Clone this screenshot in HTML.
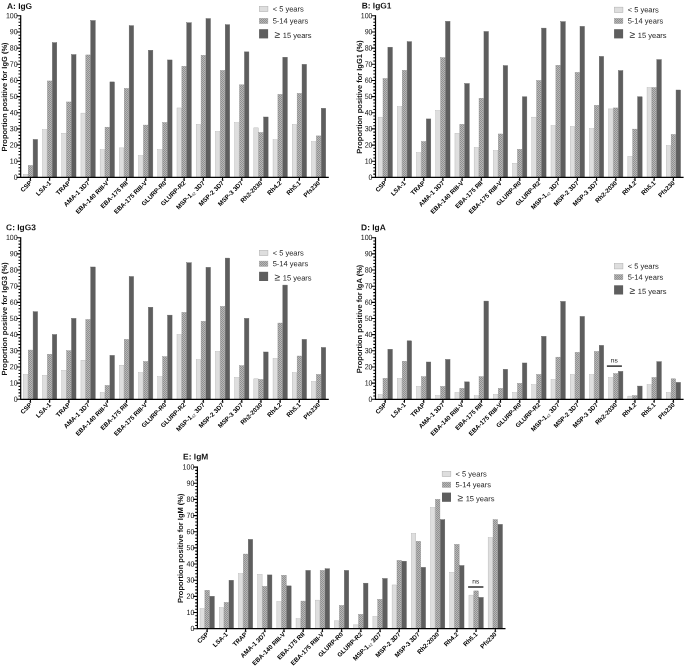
<!DOCTYPE html>
<html lang="en"><head><meta charset="utf-8"><title>Figure</title>
<style>html,body{margin:0;padding:0;background:#fff}svg{display:block}text{font-family:"Liberation Sans",Arial,Helvetica,sans-serif;fill:#1a1a1a;text-rendering:geometricPrecision}.t{font-size:8.4px;font-weight:bold;fill:#111}.tk{font-size:7.6px;text-anchor:end;fill:#111}.yl{font-size:7.5px;font-weight:bold;text-anchor:middle;fill:#111}.xl{font-size:6.3px;font-weight:bold;text-anchor:end;fill:#000}.sp{font-size:3.2px;font-weight:bold;fill:#222}.lg{font-size:7.5px;fill:#1a1a1a}.ns{font-size:6.7px;text-anchor:middle;fill:#222}</style></head><body>
<svg width="685" height="668" viewBox="0 0 685 668">
<defs><pattern id="ck" width="2" height="2" patternUnits="userSpaceOnUse"><rect width="2" height="2" fill="#b8b8b8"/><rect width="1" height="1" fill="#909090"/><rect x="1" y="1" width="1" height="1" fill="#909090"/></pattern></defs>
<rect width="685" height="668" fill="#fff"/>
<g>
<text class="t" transform="translate(7 9.1) rotate(0.06)">A: IgG</text>
<rect x="23.3" y="174.53" width="4.5" height="2.87" fill="#dedede" stroke="#b2b2b2" stroke-width="0.4"/>
<rect x="28.2" y="165.48" width="4.5" height="11.92" fill="url(#ck)" stroke="#8c8c8c" stroke-width="0.4"/>
<rect x="33.1" y="139.46" width="4.5" height="37.94" fill="#5e5e5e" stroke="#5e5e5e" stroke-width="0.4"/>
<rect x="42.51" y="129.6" width="4.5" height="47.8" fill="#dedede" stroke="#b2b2b2" stroke-width="0.4"/>
<rect x="47.41" y="80.96" width="4.5" height="96.44" fill="url(#ck)" stroke="#8c8c8c" stroke-width="0.4"/>
<rect x="52.31" y="42.66" width="4.5" height="134.74" fill="#5e5e5e" stroke="#5e5e5e" stroke-width="0.4"/>
<rect x="61.72" y="133.32" width="4.5" height="44.08" fill="#dedede" stroke="#b2b2b2" stroke-width="0.4"/>
<rect x="66.62" y="101.97" width="4.5" height="75.43" fill="url(#ck)" stroke="#8c8c8c" stroke-width="0.4"/>
<rect x="71.52" y="54.62" width="4.5" height="122.78" fill="#5e5e5e" stroke="#5e5e5e" stroke-width="0.4"/>
<rect x="80.93" y="113.12" width="4.5" height="64.28" fill="#dedede" stroke="#b2b2b2" stroke-width="0.4"/>
<rect x="85.83" y="54.95" width="4.5" height="122.45" fill="url(#ck)" stroke="#8c8c8c" stroke-width="0.4"/>
<rect x="90.73" y="20.52" width="4.5" height="156.88" fill="#5e5e5e" stroke="#5e5e5e" stroke-width="0.4"/>
<rect x="100.14" y="149.64" width="4.5" height="27.76" fill="#dedede" stroke="#b2b2b2" stroke-width="0.4"/>
<rect x="105.04" y="127.18" width="4.5" height="50.22" fill="url(#ck)" stroke="#8c8c8c" stroke-width="0.4"/>
<rect x="109.94" y="81.93" width="4.5" height="95.47" fill="#5e5e5e" stroke="#5e5e5e" stroke-width="0.4"/>
<rect x="119.35" y="147.87" width="4.5" height="29.53" fill="#dedede" stroke="#b2b2b2" stroke-width="0.4"/>
<rect x="124.25" y="88.4" width="4.5" height="89" fill="url(#ck)" stroke="#8c8c8c" stroke-width="0.4"/>
<rect x="129.15" y="25.7" width="4.5" height="151.7" fill="#5e5e5e" stroke="#5e5e5e" stroke-width="0.4"/>
<rect x="138.56" y="155.62" width="4.5" height="21.78" fill="#dedede" stroke="#b2b2b2" stroke-width="0.4"/>
<rect x="143.46" y="125.08" width="4.5" height="52.32" fill="url(#ck)" stroke="#8c8c8c" stroke-width="0.4"/>
<rect x="148.36" y="50.26" width="4.5" height="127.14" fill="#5e5e5e" stroke="#5e5e5e" stroke-width="0.4"/>
<rect x="157.77" y="149.64" width="4.5" height="27.76" fill="#dedede" stroke="#b2b2b2" stroke-width="0.4"/>
<rect x="162.67" y="122.49" width="4.5" height="54.91" fill="url(#ck)" stroke="#8c8c8c" stroke-width="0.4"/>
<rect x="167.57" y="59.96" width="4.5" height="117.44" fill="#5e5e5e" stroke="#5e5e5e" stroke-width="0.4"/>
<rect x="176.98" y="107.95" width="4.5" height="69.45" fill="#dedede" stroke="#b2b2b2" stroke-width="0.4"/>
<rect x="181.88" y="66.26" width="4.5" height="111.14" fill="url(#ck)" stroke="#8c8c8c" stroke-width="0.4"/>
<rect x="186.78" y="22.79" width="4.5" height="154.61" fill="#5e5e5e" stroke="#5e5e5e" stroke-width="0.4"/>
<rect x="196.19" y="124.43" width="4.5" height="52.97" fill="#dedede" stroke="#b2b2b2" stroke-width="0.4"/>
<rect x="201.09" y="55.27" width="4.5" height="122.13" fill="url(#ck)" stroke="#8c8c8c" stroke-width="0.4"/>
<rect x="205.99" y="18.59" width="4.5" height="158.81" fill="#5e5e5e" stroke="#5e5e5e" stroke-width="0.4"/>
<rect x="215.4" y="131.54" width="4.5" height="45.86" fill="#dedede" stroke="#b2b2b2" stroke-width="0.4"/>
<rect x="220.3" y="70.46" width="4.5" height="106.94" fill="url(#ck)" stroke="#8c8c8c" stroke-width="0.4"/>
<rect x="225.2" y="24.73" width="4.5" height="152.67" fill="#5e5e5e" stroke="#5e5e5e" stroke-width="0.4"/>
<rect x="234.61" y="122.66" width="4.5" height="54.74" fill="#dedede" stroke="#b2b2b2" stroke-width="0.4"/>
<rect x="239.51" y="84.84" width="4.5" height="92.56" fill="url(#ck)" stroke="#8c8c8c" stroke-width="0.4"/>
<rect x="244.41" y="51.88" width="4.5" height="125.52" fill="#5e5e5e" stroke="#5e5e5e" stroke-width="0.4"/>
<rect x="253.82" y="127.83" width="4.5" height="49.57" fill="#dedede" stroke="#b2b2b2" stroke-width="0.4"/>
<rect x="258.72" y="132.51" width="4.5" height="44.89" fill="url(#ck)" stroke="#8c8c8c" stroke-width="0.4"/>
<rect x="263.62" y="117" width="4.5" height="60.4" fill="#5e5e5e" stroke="#5e5e5e" stroke-width="0.4"/>
<rect x="273.03" y="139.79" width="4.5" height="37.61" fill="#dedede" stroke="#b2b2b2" stroke-width="0.4"/>
<rect x="277.93" y="94.38" width="4.5" height="83.02" fill="url(#ck)" stroke="#8c8c8c" stroke-width="0.4"/>
<rect x="282.83" y="57.21" width="4.5" height="120.19" fill="#5e5e5e" stroke="#5e5e5e" stroke-width="0.4"/>
<rect x="292.24" y="124.43" width="4.5" height="52.97" fill="#dedede" stroke="#b2b2b2" stroke-width="0.4"/>
<rect x="297.14" y="93.41" width="4.5" height="83.99" fill="url(#ck)" stroke="#8c8c8c" stroke-width="0.4"/>
<rect x="302.04" y="64.32" width="4.5" height="113.08" fill="#5e5e5e" stroke="#5e5e5e" stroke-width="0.4"/>
<rect x="311.45" y="141.72" width="4.5" height="35.68" fill="#dedede" stroke="#b2b2b2" stroke-width="0.4"/>
<rect x="316.35" y="135.91" width="4.5" height="41.49" fill="url(#ck)" stroke="#8c8c8c" stroke-width="0.4"/>
<rect x="321.25" y="108.27" width="4.5" height="69.13" fill="#5e5e5e" stroke="#5e5e5e" stroke-width="0.4"/>
<path d="M20.7 15.3 V177.4 H328.8" fill="none" stroke="#000" stroke-width="1.2"/>
<path d="M20.7 177.4h-4.1M20.7 174.17h-2.2M20.7 170.94h-2.2M20.7 167.7h-2.2M20.7 164.47h-2.2M20.7 161.24h-4.1M20.7 158.01h-2.2M20.7 154.78h-2.2M20.7 151.54h-2.2M20.7 148.31h-2.2M20.7 145.08h-4.1M20.7 141.85h-2.2M20.7 138.62h-2.2M20.7 135.38h-2.2M20.7 132.15h-2.2M20.7 128.92h-4.1M20.7 125.69h-2.2M20.7 122.46h-2.2M20.7 119.22h-2.2M20.7 115.99h-2.2M20.7 112.76h-4.1M20.7 109.53h-2.2M20.7 106.3h-2.2M20.7 103.06h-2.2M20.7 99.83h-2.2M20.7 96.6h-4.1M20.7 93.37h-2.2M20.7 90.14h-2.2M20.7 86.9h-2.2M20.7 83.67h-2.2M20.7 80.44h-4.1M20.7 77.21h-2.2M20.7 73.98h-2.2M20.7 70.74h-2.2M20.7 67.51h-2.2M20.7 64.28h-4.1M20.7 61.05h-2.2M20.7 57.82h-2.2M20.7 54.58h-2.2M20.7 51.35h-2.2M20.7 48.12h-4.1M20.7 44.89h-2.2M20.7 41.66h-2.2M20.7 38.42h-2.2M20.7 35.19h-2.2M20.7 31.96h-4.1M20.7 28.73h-2.2M20.7 25.5h-2.2M20.7 22.26h-2.2M20.7 19.03h-2.2M20.7 15.8h-4.1" stroke="#000" stroke-width="1.1" fill="none"/>
<path d="M30.45 177.4v3.4M49.66 177.4v3.4M68.87 177.4v3.4M88.08 177.4v3.4M107.29 177.4v3.4M126.5 177.4v3.4M145.71 177.4v3.4M164.92 177.4v3.4M184.13 177.4v3.4M203.34 177.4v3.4M222.55 177.4v3.4M241.76 177.4v3.4M260.97 177.4v3.4M280.18 177.4v3.4M299.39 177.4v3.4M318.6 177.4v3.4" stroke="#000" stroke-width="1.1" fill="none"/>
<text class="tk" transform="translate(17.7 179.8) rotate(0.06) scale(0.93 1)">0</text>
<text class="tk" transform="translate(17.7 163.64) rotate(0.06) scale(0.93 1)">10</text>
<text class="tk" transform="translate(17.7 147.48) rotate(0.06) scale(0.93 1)">20</text>
<text class="tk" transform="translate(17.7 131.32) rotate(0.06) scale(0.93 1)">30</text>
<text class="tk" transform="translate(17.7 115.16) rotate(0.06) scale(0.93 1)">40</text>
<text class="tk" transform="translate(17.7 99) rotate(0.06) scale(0.93 1)">50</text>
<text class="tk" transform="translate(17.7 82.84) rotate(0.06) scale(0.93 1)">60</text>
<text class="tk" transform="translate(17.7 66.68) rotate(0.06) scale(0.93 1)">70</text>
<text class="tk" transform="translate(17.7 50.52) rotate(0.06) scale(0.93 1)">80</text>
<text class="tk" transform="translate(17.7 34.36) rotate(0.06) scale(0.93 1)">90</text>
<text class="tk" transform="translate(17.7 18.2) rotate(0.06) scale(0.93 1)">100</text>
<text class="yl" transform="translate(6.5 97) rotate(-90)">Proportion positive for IgG (%)</text>
<g transform="translate(32.25 183.4) rotate(-45)"><text class="xl">CSP</text><text class="sp" x="0.2" y="-2.6">¥</text></g>
<g transform="translate(51.46 183.4) rotate(-45)"><text class="xl">LSA-1</text><text class="sp" x="0.2" y="-2.6">*</text></g>
<g transform="translate(70.67 183.4) rotate(-45)"><text class="xl">TRAP</text><text class="sp" x="0.2" y="-2.6">¥</text></g>
<g transform="translate(89.88 183.4) rotate(-45)"><text class="xl">AMA-1 3D7</text><text class="sp" x="0.2" y="-2.6">¥</text></g>
<g transform="translate(109.09 183.4) rotate(-45)"><text class="xl">EBA-140 RIII-V</text><text class="sp" x="0.2" y="-2.6">¥</text></g>
<g transform="translate(128.3 183.4) rotate(-45)"><text class="xl">EBA-175 RII</text><text class="sp" x="0.2" y="-2.6">#</text></g>
<g transform="translate(147.51 183.4) rotate(-45)"><text class="xl">EBA-175 RIII-V</text><text class="sp" x="0.2" y="-2.6">¥</text></g>
<g transform="translate(166.72 183.4) rotate(-45)"><text class="xl">GLURP-R0</text><text class="sp" x="0.2" y="-2.6">¥</text></g>
<g transform="translate(185.93 183.4) rotate(-45)"><text class="xl">GLURP-R2</text><text class="sp" x="0.2" y="-2.6">¥</text></g>
<g transform="translate(205.14 183.4) rotate(-45)"><text class="xl">MSP-1<tspan font-size="4.2" font-weight="normal" fill="#444" dy="1">42</tspan><tspan dy="-1"> 3D7</tspan></text><text class="sp" x="0.2" y="-2.6">¥</text></g>
<g transform="translate(224.35 183.4) rotate(-45)"><text class="xl">MSP-2 3D7</text><text class="sp" x="0.2" y="-2.6">¥</text></g>
<g transform="translate(243.56 183.4) rotate(-45)"><text class="xl">MSP-3 3D7</text><text class="sp" x="0.2" y="-2.6">¥</text></g>
<g transform="translate(262.77 183.4) rotate(-45)"><text class="xl">Rh2-2030</text><text class="sp" x="0.2" y="-2.6">¥</text></g>
<g transform="translate(281.98 183.4) rotate(-45)"><text class="xl">Rh4.2</text><text class="sp" x="0.2" y="-2.6">¥</text></g>
<g transform="translate(301.19 183.4) rotate(-45)"><text class="xl">Rh5.1</text><text class="sp" x="0.2" y="-2.6">*</text></g>
<g transform="translate(320.4 183.4) rotate(-45)"><text class="xl">Pfs230</text><text class="sp" x="0.2" y="-2.6">¥</text></g>
<rect x="259.3" y="6.3" width="8.6" height="5.3" fill="#dedede" stroke="#b4b4b4" stroke-width="0.6"/>
<rect x="259.3" y="18.3" width="8.6" height="5.3" fill="url(#ck)" stroke="#9a9a9a" stroke-width="0.4"/>
<rect x="259.1" y="29.2" width="9" height="9.2" fill="#5e5e5e"/>
<text class="lg" transform="translate(272.7 11.45) rotate(0.06)">&lt; 5 years</text>
<text class="lg" transform="translate(272.7 23.5) rotate(0.06)">5-14 years</text>
<text class="lg" transform="translate(274.5 37.9) rotate(0.06)"><tspan font-size="10.2">≥</tspan><tspan x="8.3">15 years</tspan></text>
</g>
<g>
<text class="t" transform="translate(361.7 8.5) rotate(0.06)">B: IgG1</text>
<rect x="378.1" y="117.16" width="4.5" height="60.24" fill="#dedede" stroke="#b2b2b2" stroke-width="0.4"/>
<rect x="383" y="78.54" width="4.5" height="98.86" fill="url(#ck)" stroke="#8c8c8c" stroke-width="0.4"/>
<rect x="387.9" y="47.19" width="4.5" height="130.21" fill="#5e5e5e" stroke="#5e5e5e" stroke-width="0.4"/>
<rect x="397.31" y="106.66" width="4.5" height="70.74" fill="#dedede" stroke="#b2b2b2" stroke-width="0.4"/>
<rect x="402.21" y="70.3" width="4.5" height="107.1" fill="url(#ck)" stroke="#8c8c8c" stroke-width="0.4"/>
<rect x="407.11" y="41.69" width="4.5" height="135.71" fill="#5e5e5e" stroke="#5e5e5e" stroke-width="0.4"/>
<rect x="416.52" y="152.71" width="4.5" height="24.69" fill="#dedede" stroke="#b2b2b2" stroke-width="0.4"/>
<rect x="421.42" y="141.56" width="4.5" height="35.84" fill="url(#ck)" stroke="#8c8c8c" stroke-width="0.4"/>
<rect x="426.32" y="118.94" width="4.5" height="58.46" fill="#5e5e5e" stroke="#5e5e5e" stroke-width="0.4"/>
<rect x="435.73" y="110.54" width="4.5" height="66.86" fill="#dedede" stroke="#b2b2b2" stroke-width="0.4"/>
<rect x="440.63" y="57.69" width="4.5" height="119.71" fill="url(#ck)" stroke="#8c8c8c" stroke-width="0.4"/>
<rect x="445.53" y="21.33" width="4.5" height="156.07" fill="#5e5e5e" stroke="#5e5e5e" stroke-width="0.4"/>
<rect x="454.94" y="133.32" width="4.5" height="44.08" fill="#dedede" stroke="#b2b2b2" stroke-width="0.4"/>
<rect x="459.84" y="124.27" width="4.5" height="53.13" fill="url(#ck)" stroke="#8c8c8c" stroke-width="0.4"/>
<rect x="464.74" y="83.55" width="4.5" height="93.85" fill="#5e5e5e" stroke="#5e5e5e" stroke-width="0.4"/>
<rect x="474.15" y="147.54" width="4.5" height="29.86" fill="#dedede" stroke="#b2b2b2" stroke-width="0.4"/>
<rect x="479.05" y="98.25" width="4.5" height="79.15" fill="url(#ck)" stroke="#8c8c8c" stroke-width="0.4"/>
<rect x="483.95" y="31.51" width="4.5" height="145.89" fill="#5e5e5e" stroke="#5e5e5e" stroke-width="0.4"/>
<rect x="493.36" y="150.61" width="4.5" height="26.79" fill="#dedede" stroke="#b2b2b2" stroke-width="0.4"/>
<rect x="498.26" y="133.97" width="4.5" height="43.43" fill="url(#ck)" stroke="#8c8c8c" stroke-width="0.4"/>
<rect x="503.16" y="65.61" width="4.5" height="111.79" fill="#5e5e5e" stroke="#5e5e5e" stroke-width="0.4"/>
<rect x="512.57" y="163.38" width="4.5" height="14.02" fill="#dedede" stroke="#b2b2b2" stroke-width="0.4"/>
<rect x="517.47" y="149.32" width="4.5" height="28.08" fill="url(#ck)" stroke="#8c8c8c" stroke-width="0.4"/>
<rect x="522.37" y="96.8" width="4.5" height="80.6" fill="#5e5e5e" stroke="#5e5e5e" stroke-width="0.4"/>
<rect x="531.78" y="117.16" width="4.5" height="60.24" fill="#dedede" stroke="#b2b2b2" stroke-width="0.4"/>
<rect x="536.68" y="80.48" width="4.5" height="96.92" fill="url(#ck)" stroke="#8c8c8c" stroke-width="0.4"/>
<rect x="541.58" y="28.12" width="4.5" height="149.28" fill="#5e5e5e" stroke="#5e5e5e" stroke-width="0.4"/>
<rect x="550.99" y="125.56" width="4.5" height="51.84" fill="#dedede" stroke="#b2b2b2" stroke-width="0.4"/>
<rect x="555.89" y="65.29" width="4.5" height="112.11" fill="url(#ck)" stroke="#8c8c8c" stroke-width="0.4"/>
<rect x="560.79" y="21.66" width="4.5" height="155.74" fill="#5e5e5e" stroke="#5e5e5e" stroke-width="0.4"/>
<rect x="570.2" y="126.53" width="4.5" height="50.87" fill="#dedede" stroke="#b2b2b2" stroke-width="0.4"/>
<rect x="575.1" y="72.4" width="4.5" height="105" fill="url(#ck)" stroke="#8c8c8c" stroke-width="0.4"/>
<rect x="580" y="26.34" width="4.5" height="151.06" fill="#5e5e5e" stroke="#5e5e5e" stroke-width="0.4"/>
<rect x="589.41" y="128.64" width="4.5" height="48.76" fill="#dedede" stroke="#b2b2b2" stroke-width="0.4"/>
<rect x="594.31" y="105.36" width="4.5" height="72.04" fill="url(#ck)" stroke="#8c8c8c" stroke-width="0.4"/>
<rect x="599.21" y="56.4" width="4.5" height="121" fill="#5e5e5e" stroke="#5e5e5e" stroke-width="0.4"/>
<rect x="608.62" y="108.92" width="4.5" height="68.48" fill="#dedede" stroke="#b2b2b2" stroke-width="0.4"/>
<rect x="613.52" y="107.95" width="4.5" height="69.45" fill="url(#ck)" stroke="#8c8c8c" stroke-width="0.4"/>
<rect x="618.42" y="70.62" width="4.5" height="106.78" fill="#5e5e5e" stroke="#5e5e5e" stroke-width="0.4"/>
<rect x="627.83" y="156.43" width="4.5" height="20.97" fill="#dedede" stroke="#b2b2b2" stroke-width="0.4"/>
<rect x="632.73" y="129.12" width="4.5" height="48.28" fill="url(#ck)" stroke="#8c8c8c" stroke-width="0.4"/>
<rect x="637.63" y="96.8" width="4.5" height="80.6" fill="#5e5e5e" stroke="#5e5e5e" stroke-width="0.4"/>
<rect x="647.04" y="87.59" width="4.5" height="89.81" fill="#dedede" stroke="#b2b2b2" stroke-width="0.4"/>
<rect x="651.94" y="87.59" width="4.5" height="89.81" fill="url(#ck)" stroke="#8c8c8c" stroke-width="0.4"/>
<rect x="656.84" y="59.63" width="4.5" height="117.77" fill="#5e5e5e" stroke="#5e5e5e" stroke-width="0.4"/>
<rect x="666.25" y="145.6" width="4.5" height="31.8" fill="#dedede" stroke="#b2b2b2" stroke-width="0.4"/>
<rect x="671.15" y="134.45" width="4.5" height="42.95" fill="url(#ck)" stroke="#8c8c8c" stroke-width="0.4"/>
<rect x="676.05" y="90.01" width="4.5" height="87.39" fill="#5e5e5e" stroke="#5e5e5e" stroke-width="0.4"/>
<path d="M375.5 15.3 V177.4 H683.6" fill="none" stroke="#000" stroke-width="1.2"/>
<path d="M375.5 177.4h-4.1M375.5 174.17h-2.2M375.5 170.94h-2.2M375.5 167.7h-2.2M375.5 164.47h-2.2M375.5 161.24h-4.1M375.5 158.01h-2.2M375.5 154.78h-2.2M375.5 151.54h-2.2M375.5 148.31h-2.2M375.5 145.08h-4.1M375.5 141.85h-2.2M375.5 138.62h-2.2M375.5 135.38h-2.2M375.5 132.15h-2.2M375.5 128.92h-4.1M375.5 125.69h-2.2M375.5 122.46h-2.2M375.5 119.22h-2.2M375.5 115.99h-2.2M375.5 112.76h-4.1M375.5 109.53h-2.2M375.5 106.3h-2.2M375.5 103.06h-2.2M375.5 99.83h-2.2M375.5 96.6h-4.1M375.5 93.37h-2.2M375.5 90.14h-2.2M375.5 86.9h-2.2M375.5 83.67h-2.2M375.5 80.44h-4.1M375.5 77.21h-2.2M375.5 73.98h-2.2M375.5 70.74h-2.2M375.5 67.51h-2.2M375.5 64.28h-4.1M375.5 61.05h-2.2M375.5 57.82h-2.2M375.5 54.58h-2.2M375.5 51.35h-2.2M375.5 48.12h-4.1M375.5 44.89h-2.2M375.5 41.66h-2.2M375.5 38.42h-2.2M375.5 35.19h-2.2M375.5 31.96h-4.1M375.5 28.73h-2.2M375.5 25.5h-2.2M375.5 22.26h-2.2M375.5 19.03h-2.2M375.5 15.8h-4.1" stroke="#000" stroke-width="1.1" fill="none"/>
<path d="M385.25 177.4v3.4M404.46 177.4v3.4M423.67 177.4v3.4M442.88 177.4v3.4M462.09 177.4v3.4M481.3 177.4v3.4M500.51 177.4v3.4M519.72 177.4v3.4M538.93 177.4v3.4M558.14 177.4v3.4M577.35 177.4v3.4M596.56 177.4v3.4M615.77 177.4v3.4M634.98 177.4v3.4M654.19 177.4v3.4M673.4 177.4v3.4" stroke="#000" stroke-width="1.1" fill="none"/>
<text class="tk" transform="translate(372.5 179.8) rotate(0.06) scale(0.93 1)">0</text>
<text class="tk" transform="translate(372.5 163.64) rotate(0.06) scale(0.93 1)">10</text>
<text class="tk" transform="translate(372.5 147.48) rotate(0.06) scale(0.93 1)">20</text>
<text class="tk" transform="translate(372.5 131.32) rotate(0.06) scale(0.93 1)">30</text>
<text class="tk" transform="translate(372.5 115.16) rotate(0.06) scale(0.93 1)">40</text>
<text class="tk" transform="translate(372.5 99) rotate(0.06) scale(0.93 1)">50</text>
<text class="tk" transform="translate(372.5 82.84) rotate(0.06) scale(0.93 1)">60</text>
<text class="tk" transform="translate(372.5 66.68) rotate(0.06) scale(0.93 1)">70</text>
<text class="tk" transform="translate(372.5 50.52) rotate(0.06) scale(0.93 1)">80</text>
<text class="tk" transform="translate(372.5 34.36) rotate(0.06) scale(0.93 1)">90</text>
<text class="tk" transform="translate(372.5 18.2) rotate(0.06) scale(0.93 1)">100</text>
<text class="yl" transform="translate(362 97) rotate(-90)">Proportion positive for IgG1 (%)</text>
<g transform="translate(387.05 183.4) rotate(-45)"><text class="xl">CSP</text><text class="sp" x="0.2" y="-2.6">¥</text></g>
<g transform="translate(406.26 183.4) rotate(-45)"><text class="xl">LSA-1</text><text class="sp" x="0.2" y="-2.6">*</text></g>
<g transform="translate(425.47 183.4) rotate(-45)"><text class="xl">TRAP</text><text class="sp" x="0.2" y="-2.6">¥</text></g>
<g transform="translate(444.68 183.4) rotate(-45)"><text class="xl">AMA-1 3D7</text><text class="sp" x="0.2" y="-2.6">¥</text></g>
<g transform="translate(463.89 183.4) rotate(-45)"><text class="xl">EBA-140 RIII-V</text><text class="sp" x="0.2" y="-2.6">¥</text></g>
<g transform="translate(483.1 183.4) rotate(-45)"><text class="xl">EBA-175 RII</text><text class="sp" x="0.2" y="-2.6">#</text></g>
<g transform="translate(502.31 183.4) rotate(-45)"><text class="xl">EBA-175 RIII-V</text><text class="sp" x="0.2" y="-2.6">¥</text></g>
<g transform="translate(521.52 183.4) rotate(-45)"><text class="xl">GLURP-R0</text><text class="sp" x="0.2" y="-2.6">¥</text></g>
<g transform="translate(540.73 183.4) rotate(-45)"><text class="xl">GLURP-R2</text><text class="sp" x="0.2" y="-2.6">¥</text></g>
<g transform="translate(559.94 183.4) rotate(-45)"><text class="xl">MSP-1<tspan font-size="4.2" font-weight="normal" fill="#444" dy="1">42</tspan><tspan dy="-1"> 3D7</tspan></text><text class="sp" x="0.2" y="-2.6">¥</text></g>
<g transform="translate(579.15 183.4) rotate(-45)"><text class="xl">MSP-2 3D7</text><text class="sp" x="0.2" y="-2.6">¥</text></g>
<g transform="translate(598.36 183.4) rotate(-45)"><text class="xl">MSP-3 3D7</text><text class="sp" x="0.2" y="-2.6">¥</text></g>
<g transform="translate(617.57 183.4) rotate(-45)"><text class="xl">Rh2-2030</text><text class="sp" x="0.2" y="-2.6">¥</text></g>
<g transform="translate(636.78 183.4) rotate(-45)"><text class="xl">Rh4.2</text><text class="sp" x="0.2" y="-2.6">¥</text></g>
<g transform="translate(655.99 183.4) rotate(-45)"><text class="xl">Rh5.1</text><text class="sp" x="0.2" y="-2.6">*</text></g>
<g transform="translate(675.2 183.4) rotate(-45)"><text class="xl">Pfs230</text><text class="sp" x="0.2" y="-2.6">¥</text></g>
<rect x="614.3" y="7.2" width="8.6" height="5.3" fill="#dedede" stroke="#b4b4b4" stroke-width="0.6"/>
<rect x="614.3" y="18.3" width="8.6" height="5.3" fill="url(#ck)" stroke="#9a9a9a" stroke-width="0.4"/>
<rect x="614.1" y="29.2" width="9" height="9.2" fill="#5e5e5e"/>
<text class="lg" transform="translate(627.7 12.35) rotate(0.06)">&lt; 5 years</text>
<text class="lg" transform="translate(627.7 23.5) rotate(0.06)">5-14 years</text>
<text class="lg" transform="translate(629.5 37.9) rotate(0.06)"><tspan font-size="10.2">≥</tspan><tspan x="8.3">15 years</tspan></text>
</g>
<g>
<text class="t" transform="translate(6.1 230.2) rotate(0.06)">C: IgG3</text>
<rect x="23.3" y="374.45" width="4.5" height="24.85" fill="#dedede" stroke="#b2b2b2" stroke-width="0.4"/>
<rect x="28.2" y="350.05" width="4.5" height="49.25" fill="url(#ck)" stroke="#8c8c8c" stroke-width="0.4"/>
<rect x="33.1" y="311.75" width="4.5" height="87.55" fill="#5e5e5e" stroke="#5e5e5e" stroke-width="0.4"/>
<rect x="42.51" y="375.42" width="4.5" height="23.88" fill="#dedede" stroke="#b2b2b2" stroke-width="0.4"/>
<rect x="47.41" y="354.25" width="4.5" height="45.05" fill="url(#ck)" stroke="#8c8c8c" stroke-width="0.4"/>
<rect x="52.31" y="334.54" width="4.5" height="64.76" fill="#5e5e5e" stroke="#5e5e5e" stroke-width="0.4"/>
<rect x="61.72" y="370.41" width="4.5" height="28.89" fill="#dedede" stroke="#b2b2b2" stroke-width="0.4"/>
<rect x="66.62" y="350.7" width="4.5" height="48.6" fill="url(#ck)" stroke="#8c8c8c" stroke-width="0.4"/>
<rect x="71.52" y="318.38" width="4.5" height="80.92" fill="#5e5e5e" stroke="#5e5e5e" stroke-width="0.4"/>
<rect x="80.93" y="360.23" width="4.5" height="39.07" fill="#dedede" stroke="#b2b2b2" stroke-width="0.4"/>
<rect x="85.83" y="319.51" width="4.5" height="79.79" fill="url(#ck)" stroke="#8c8c8c" stroke-width="0.4"/>
<rect x="90.73" y="266.99" width="4.5" height="132.31" fill="#5e5e5e" stroke="#5e5e5e" stroke-width="0.4"/>
<rect x="100.14" y="392.55" width="4.5" height="6.75" fill="#dedede" stroke="#b2b2b2" stroke-width="0.4"/>
<rect x="105.04" y="385.44" width="4.5" height="13.86" fill="url(#ck)" stroke="#8c8c8c" stroke-width="0.4"/>
<rect x="109.94" y="355.38" width="4.5" height="43.92" fill="#5e5e5e" stroke="#5e5e5e" stroke-width="0.4"/>
<rect x="119.35" y="365.24" width="4.5" height="34.06" fill="#dedede" stroke="#b2b2b2" stroke-width="0.4"/>
<rect x="124.25" y="339.38" width="4.5" height="59.92" fill="url(#ck)" stroke="#8c8c8c" stroke-width="0.4"/>
<rect x="129.15" y="276.52" width="4.5" height="122.78" fill="#5e5e5e" stroke="#5e5e5e" stroke-width="0.4"/>
<rect x="138.56" y="372.67" width="4.5" height="26.63" fill="#dedede" stroke="#b2b2b2" stroke-width="0.4"/>
<rect x="143.46" y="361.52" width="4.5" height="37.78" fill="url(#ck)" stroke="#8c8c8c" stroke-width="0.4"/>
<rect x="148.36" y="307.23" width="4.5" height="92.07" fill="#5e5e5e" stroke="#5e5e5e" stroke-width="0.4"/>
<rect x="157.77" y="376.71" width="4.5" height="22.59" fill="#dedede" stroke="#b2b2b2" stroke-width="0.4"/>
<rect x="162.67" y="356.68" width="4.5" height="42.62" fill="url(#ck)" stroke="#8c8c8c" stroke-width="0.4"/>
<rect x="167.57" y="315.14" width="4.5" height="84.16" fill="#5e5e5e" stroke="#5e5e5e" stroke-width="0.4"/>
<rect x="176.98" y="334.54" width="4.5" height="64.76" fill="#dedede" stroke="#b2b2b2" stroke-width="0.4"/>
<rect x="181.88" y="312.4" width="4.5" height="86.9" fill="url(#ck)" stroke="#8c8c8c" stroke-width="0.4"/>
<rect x="186.78" y="262.79" width="4.5" height="136.51" fill="#5e5e5e" stroke="#5e5e5e" stroke-width="0.4"/>
<rect x="196.19" y="359.75" width="4.5" height="39.55" fill="#dedede" stroke="#b2b2b2" stroke-width="0.4"/>
<rect x="201.09" y="321.29" width="4.5" height="78.01" fill="url(#ck)" stroke="#8c8c8c" stroke-width="0.4"/>
<rect x="205.99" y="267.31" width="4.5" height="131.99" fill="#5e5e5e" stroke="#5e5e5e" stroke-width="0.4"/>
<rect x="215.4" y="351.5" width="4.5" height="47.8" fill="#dedede" stroke="#b2b2b2" stroke-width="0.4"/>
<rect x="220.3" y="306.42" width="4.5" height="92.88" fill="url(#ck)" stroke="#8c8c8c" stroke-width="0.4"/>
<rect x="225.2" y="258.1" width="4.5" height="141.2" fill="#5e5e5e" stroke="#5e5e5e" stroke-width="0.4"/>
<rect x="234.61" y="377.52" width="4.5" height="21.78" fill="#dedede" stroke="#b2b2b2" stroke-width="0.4"/>
<rect x="239.51" y="365.73" width="4.5" height="33.57" fill="url(#ck)" stroke="#8c8c8c" stroke-width="0.4"/>
<rect x="244.41" y="318.38" width="4.5" height="80.92" fill="#5e5e5e" stroke="#5e5e5e" stroke-width="0.4"/>
<rect x="253.82" y="378.82" width="4.5" height="20.48" fill="#dedede" stroke="#b2b2b2" stroke-width="0.4"/>
<rect x="258.72" y="379.46" width="4.5" height="19.84" fill="url(#ck)" stroke="#8c8c8c" stroke-width="0.4"/>
<rect x="263.62" y="351.99" width="4.5" height="47.31" fill="#5e5e5e" stroke="#5e5e5e" stroke-width="0.4"/>
<rect x="273.03" y="358.45" width="4.5" height="40.85" fill="#dedede" stroke="#b2b2b2" stroke-width="0.4"/>
<rect x="277.93" y="323.06" width="4.5" height="76.24" fill="url(#ck)" stroke="#8c8c8c" stroke-width="0.4"/>
<rect x="282.83" y="285.09" width="4.5" height="114.21" fill="#5e5e5e" stroke="#5e5e5e" stroke-width="0.4"/>
<rect x="292.24" y="372.67" width="4.5" height="26.63" fill="#dedede" stroke="#b2b2b2" stroke-width="0.4"/>
<rect x="297.14" y="356.03" width="4.5" height="43.27" fill="url(#ck)" stroke="#8c8c8c" stroke-width="0.4"/>
<rect x="302.04" y="339.38" width="4.5" height="59.92" fill="#5e5e5e" stroke="#5e5e5e" stroke-width="0.4"/>
<rect x="311.45" y="381.56" width="4.5" height="17.74" fill="#dedede" stroke="#b2b2b2" stroke-width="0.4"/>
<rect x="316.35" y="374.45" width="4.5" height="24.85" fill="url(#ck)" stroke="#8c8c8c" stroke-width="0.4"/>
<rect x="321.25" y="347.46" width="4.5" height="51.84" fill="#5e5e5e" stroke="#5e5e5e" stroke-width="0.4"/>
<path d="M20.7 237.2 V399.3 H328.8" fill="none" stroke="#000" stroke-width="1.2"/>
<path d="M20.7 399.3h-4.1M20.7 396.07h-2.2M20.7 392.84h-2.2M20.7 389.6h-2.2M20.7 386.37h-2.2M20.7 383.14h-4.1M20.7 379.91h-2.2M20.7 376.68h-2.2M20.7 373.44h-2.2M20.7 370.21h-2.2M20.7 366.98h-4.1M20.7 363.75h-2.2M20.7 360.52h-2.2M20.7 357.28h-2.2M20.7 354.05h-2.2M20.7 350.82h-4.1M20.7 347.59h-2.2M20.7 344.36h-2.2M20.7 341.12h-2.2M20.7 337.89h-2.2M20.7 334.66h-4.1M20.7 331.43h-2.2M20.7 328.2h-2.2M20.7 324.96h-2.2M20.7 321.73h-2.2M20.7 318.5h-4.1M20.7 315.27h-2.2M20.7 312.04h-2.2M20.7 308.8h-2.2M20.7 305.57h-2.2M20.7 302.34h-4.1M20.7 299.11h-2.2M20.7 295.88h-2.2M20.7 292.64h-2.2M20.7 289.41h-2.2M20.7 286.18h-4.1M20.7 282.95h-2.2M20.7 279.72h-2.2M20.7 276.48h-2.2M20.7 273.25h-2.2M20.7 270.02h-4.1M20.7 266.79h-2.2M20.7 263.56h-2.2M20.7 260.32h-2.2M20.7 257.09h-2.2M20.7 253.86h-4.1M20.7 250.63h-2.2M20.7 247.4h-2.2M20.7 244.16h-2.2M20.7 240.93h-2.2M20.7 237.7h-4.1" stroke="#000" stroke-width="1.1" fill="none"/>
<path d="M30.45 399.3v3.4M49.66 399.3v3.4M68.87 399.3v3.4M88.08 399.3v3.4M107.29 399.3v3.4M126.5 399.3v3.4M145.71 399.3v3.4M164.92 399.3v3.4M184.13 399.3v3.4M203.34 399.3v3.4M222.55 399.3v3.4M241.76 399.3v3.4M260.97 399.3v3.4M280.18 399.3v3.4M299.39 399.3v3.4M318.6 399.3v3.4" stroke="#000" stroke-width="1.1" fill="none"/>
<text class="tk" transform="translate(17.7 401.7) rotate(0.06) scale(0.93 1)">0</text>
<text class="tk" transform="translate(17.7 385.54) rotate(0.06) scale(0.93 1)">10</text>
<text class="tk" transform="translate(17.7 369.38) rotate(0.06) scale(0.93 1)">20</text>
<text class="tk" transform="translate(17.7 353.22) rotate(0.06) scale(0.93 1)">30</text>
<text class="tk" transform="translate(17.7 337.06) rotate(0.06) scale(0.93 1)">40</text>
<text class="tk" transform="translate(17.7 320.9) rotate(0.06) scale(0.93 1)">50</text>
<text class="tk" transform="translate(17.7 304.74) rotate(0.06) scale(0.93 1)">60</text>
<text class="tk" transform="translate(17.7 288.58) rotate(0.06) scale(0.93 1)">70</text>
<text class="tk" transform="translate(17.7 272.42) rotate(0.06) scale(0.93 1)">80</text>
<text class="tk" transform="translate(17.7 256.26) rotate(0.06) scale(0.93 1)">90</text>
<text class="tk" transform="translate(17.7 240.1) rotate(0.06) scale(0.93 1)">100</text>
<text class="yl" transform="translate(6.5 318.9) rotate(-90)">Proportion positive for IgG3 (%)</text>
<g transform="translate(32.25 405.3) rotate(-45)"><text class="xl">CSP</text><text class="sp" x="0.2" y="-2.6">¥</text></g>
<g transform="translate(51.46 405.3) rotate(-45)"><text class="xl">LSA-1</text><text class="sp" x="0.2" y="-2.6">*</text></g>
<g transform="translate(70.67 405.3) rotate(-45)"><text class="xl">TRAP</text><text class="sp" x="0.2" y="-2.6">¥</text></g>
<g transform="translate(89.88 405.3) rotate(-45)"><text class="xl">AMA-1 3D7</text><text class="sp" x="0.2" y="-2.6">¥</text></g>
<g transform="translate(109.09 405.3) rotate(-45)"><text class="xl">EBA-140 RIII-V</text><text class="sp" x="0.2" y="-2.6">¥</text></g>
<g transform="translate(128.3 405.3) rotate(-45)"><text class="xl">EBA-175 RII</text><text class="sp" x="0.2" y="-2.6">#</text></g>
<g transform="translate(147.51 405.3) rotate(-45)"><text class="xl">EBA-175 RIII-V</text><text class="sp" x="0.2" y="-2.6">¥</text></g>
<g transform="translate(166.72 405.3) rotate(-45)"><text class="xl">GLURP-R0</text><text class="sp" x="0.2" y="-2.6">¥</text></g>
<g transform="translate(185.93 405.3) rotate(-45)"><text class="xl">GLURP-R2</text><text class="sp" x="0.2" y="-2.6">¥</text></g>
<g transform="translate(205.14 405.3) rotate(-45)"><text class="xl">MSP-1<tspan font-size="4.2" font-weight="normal" fill="#444" dy="1">42</tspan><tspan dy="-1"> 3D7</tspan></text><text class="sp" x="0.2" y="-2.6">¥</text></g>
<g transform="translate(224.35 405.3) rotate(-45)"><text class="xl">MSP-2 3D7</text><text class="sp" x="0.2" y="-2.6">¥</text></g>
<g transform="translate(243.56 405.3) rotate(-45)"><text class="xl">MSP-3 3D7</text><text class="sp" x="0.2" y="-2.6">¥</text></g>
<g transform="translate(262.77 405.3) rotate(-45)"><text class="xl">Rh2-2030</text><text class="sp" x="0.2" y="-2.6">¥</text></g>
<g transform="translate(281.98 405.3) rotate(-45)"><text class="xl">Rh4.2</text><text class="sp" x="0.2" y="-2.6">¥</text></g>
<g transform="translate(301.19 405.3) rotate(-45)"><text class="xl">Rh5.1</text><text class="sp" x="0.2" y="-2.6">*</text></g>
<g transform="translate(320.4 405.3) rotate(-45)"><text class="xl">Pfs230</text><text class="sp" x="0.2" y="-2.6">¥</text></g>
<rect x="259.3" y="250.4" width="8.6" height="5.3" fill="#dedede" stroke="#b4b4b4" stroke-width="0.6"/>
<rect x="259.3" y="261.1" width="8.6" height="5.3" fill="url(#ck)" stroke="#9a9a9a" stroke-width="0.4"/>
<rect x="259.1" y="271.8" width="9" height="9.2" fill="#5e5e5e"/>
<text class="lg" transform="translate(272.7 255.55) rotate(0.06)">&lt; 5 years</text>
<text class="lg" transform="translate(272.7 266.3) rotate(0.06)">5-14 years</text>
<text class="lg" transform="translate(274.5 280.5) rotate(0.06)"><tspan font-size="10.2">≥</tspan><tspan x="8.3">15 years</tspan></text>
</g>
<g>
<text class="t" transform="translate(361.1 230.2) rotate(0.06)">D: IgA</text>
<rect x="378.1" y="394.49" width="4.5" height="4.81" fill="#dedede" stroke="#b2b2b2" stroke-width="0.4"/>
<rect x="383" y="378.33" width="4.5" height="20.97" fill="url(#ck)" stroke="#8c8c8c" stroke-width="0.4"/>
<rect x="387.9" y="349.24" width="4.5" height="50.06" fill="#5e5e5e" stroke="#5e5e5e" stroke-width="0.4"/>
<rect x="397.31" y="378.49" width="4.5" height="20.81" fill="#dedede" stroke="#b2b2b2" stroke-width="0.4"/>
<rect x="402.21" y="361.2" width="4.5" height="38.1" fill="url(#ck)" stroke="#8c8c8c" stroke-width="0.4"/>
<rect x="407.11" y="340.84" width="4.5" height="58.46" fill="#5e5e5e" stroke="#5e5e5e" stroke-width="0.4"/>
<rect x="416.52" y="386.41" width="4.5" height="12.89" fill="#dedede" stroke="#b2b2b2" stroke-width="0.4"/>
<rect x="421.42" y="376.71" width="4.5" height="22.59" fill="url(#ck)" stroke="#8c8c8c" stroke-width="0.4"/>
<rect x="426.32" y="362.01" width="4.5" height="37.29" fill="#5e5e5e" stroke="#5e5e5e" stroke-width="0.4"/>
<rect x="435.73" y="395.62" width="4.5" height="3.68" fill="#dedede" stroke="#b2b2b2" stroke-width="0.4"/>
<rect x="440.63" y="386.41" width="4.5" height="12.89" fill="url(#ck)" stroke="#8c8c8c" stroke-width="0.4"/>
<rect x="445.53" y="359.42" width="4.5" height="39.88" fill="#5e5e5e" stroke="#5e5e5e" stroke-width="0.4"/>
<rect x="454.94" y="392.55" width="4.5" height="6.75" fill="#dedede" stroke="#b2b2b2" stroke-width="0.4"/>
<rect x="459.84" y="388.35" width="4.5" height="10.95" fill="url(#ck)" stroke="#8c8c8c" stroke-width="0.4"/>
<rect x="464.74" y="381.89" width="4.5" height="17.41" fill="#5e5e5e" stroke="#5e5e5e" stroke-width="0.4"/>
<rect x="474.15" y="395.78" width="4.5" height="3.52" fill="#dedede" stroke="#b2b2b2" stroke-width="0.4"/>
<rect x="479.05" y="376.71" width="4.5" height="22.59" fill="url(#ck)" stroke="#8c8c8c" stroke-width="0.4"/>
<rect x="483.95" y="301.09" width="4.5" height="98.21" fill="#5e5e5e" stroke="#5e5e5e" stroke-width="0.4"/>
<rect x="493.36" y="394.49" width="4.5" height="4.81" fill="#dedede" stroke="#b2b2b2" stroke-width="0.4"/>
<rect x="498.26" y="388.35" width="4.5" height="10.95" fill="url(#ck)" stroke="#8c8c8c" stroke-width="0.4"/>
<rect x="503.16" y="369.28" width="4.5" height="30.02" fill="#5e5e5e" stroke="#5e5e5e" stroke-width="0.4"/>
<rect x="512.57" y="392.55" width="4.5" height="6.75" fill="#dedede" stroke="#b2b2b2" stroke-width="0.4"/>
<rect x="517.47" y="383.34" width="4.5" height="15.96" fill="url(#ck)" stroke="#8c8c8c" stroke-width="0.4"/>
<rect x="522.37" y="362.98" width="4.5" height="36.32" fill="#5e5e5e" stroke="#5e5e5e" stroke-width="0.4"/>
<rect x="531.78" y="384.63" width="4.5" height="14.67" fill="#dedede" stroke="#b2b2b2" stroke-width="0.4"/>
<rect x="536.68" y="374.45" width="4.5" height="24.85" fill="url(#ck)" stroke="#8c8c8c" stroke-width="0.4"/>
<rect x="541.58" y="336.31" width="4.5" height="62.99" fill="#5e5e5e" stroke="#5e5e5e" stroke-width="0.4"/>
<rect x="550.99" y="379.46" width="4.5" height="19.84" fill="#dedede" stroke="#b2b2b2" stroke-width="0.4"/>
<rect x="555.89" y="357.16" width="4.5" height="42.14" fill="url(#ck)" stroke="#8c8c8c" stroke-width="0.4"/>
<rect x="560.79" y="301.41" width="4.5" height="97.89" fill="#5e5e5e" stroke="#5e5e5e" stroke-width="0.4"/>
<rect x="570.2" y="374.45" width="4.5" height="24.85" fill="#dedede" stroke="#b2b2b2" stroke-width="0.4"/>
<rect x="575.1" y="352.31" width="4.5" height="46.99" fill="url(#ck)" stroke="#8c8c8c" stroke-width="0.4"/>
<rect x="580" y="316.44" width="4.5" height="82.86" fill="#5e5e5e" stroke="#5e5e5e" stroke-width="0.4"/>
<rect x="589.41" y="374.61" width="4.5" height="24.69" fill="#dedede" stroke="#b2b2b2" stroke-width="0.4"/>
<rect x="594.31" y="351.5" width="4.5" height="47.8" fill="url(#ck)" stroke="#8c8c8c" stroke-width="0.4"/>
<rect x="599.21" y="345.36" width="4.5" height="53.94" fill="#5e5e5e" stroke="#5e5e5e" stroke-width="0.4"/>
<rect x="608.62" y="377.68" width="4.5" height="21.62" fill="#dedede" stroke="#b2b2b2" stroke-width="0.4"/>
<rect x="613.52" y="373.64" width="4.5" height="25.66" fill="url(#ck)" stroke="#8c8c8c" stroke-width="0.4"/>
<rect x="618.42" y="371.38" width="4.5" height="27.92" fill="#5e5e5e" stroke="#5e5e5e" stroke-width="0.4"/>
<rect x="627.83" y="396.11" width="4.5" height="3.19" fill="#dedede" stroke="#b2b2b2" stroke-width="0.4"/>
<rect x="632.73" y="395.62" width="4.5" height="3.68" fill="url(#ck)" stroke="#8c8c8c" stroke-width="0.4"/>
<rect x="637.63" y="386.09" width="4.5" height="13.21" fill="#5e5e5e" stroke="#5e5e5e" stroke-width="0.4"/>
<rect x="647.04" y="384.63" width="4.5" height="14.67" fill="#dedede" stroke="#b2b2b2" stroke-width="0.4"/>
<rect x="651.94" y="377.52" width="4.5" height="21.78" fill="url(#ck)" stroke="#8c8c8c" stroke-width="0.4"/>
<rect x="656.84" y="361.69" width="4.5" height="37.61" fill="#5e5e5e" stroke="#5e5e5e" stroke-width="0.4"/>
<rect x="666.25" y="392.55" width="4.5" height="6.75" fill="#dedede" stroke="#b2b2b2" stroke-width="0.4"/>
<rect x="671.15" y="378.82" width="4.5" height="20.48" fill="url(#ck)" stroke="#8c8c8c" stroke-width="0.4"/>
<rect x="676.05" y="382.37" width="4.5" height="16.93" fill="#5e5e5e" stroke="#5e5e5e" stroke-width="0.4"/>
<path d="M375.5 237.2 V399.3 H683.6" fill="none" stroke="#000" stroke-width="1.2"/>
<path d="M375.5 399.3h-4.1M375.5 396.07h-2.2M375.5 392.84h-2.2M375.5 389.6h-2.2M375.5 386.37h-2.2M375.5 383.14h-4.1M375.5 379.91h-2.2M375.5 376.68h-2.2M375.5 373.44h-2.2M375.5 370.21h-2.2M375.5 366.98h-4.1M375.5 363.75h-2.2M375.5 360.52h-2.2M375.5 357.28h-2.2M375.5 354.05h-2.2M375.5 350.82h-4.1M375.5 347.59h-2.2M375.5 344.36h-2.2M375.5 341.12h-2.2M375.5 337.89h-2.2M375.5 334.66h-4.1M375.5 331.43h-2.2M375.5 328.2h-2.2M375.5 324.96h-2.2M375.5 321.73h-2.2M375.5 318.5h-4.1M375.5 315.27h-2.2M375.5 312.04h-2.2M375.5 308.8h-2.2M375.5 305.57h-2.2M375.5 302.34h-4.1M375.5 299.11h-2.2M375.5 295.88h-2.2M375.5 292.64h-2.2M375.5 289.41h-2.2M375.5 286.18h-4.1M375.5 282.95h-2.2M375.5 279.72h-2.2M375.5 276.48h-2.2M375.5 273.25h-2.2M375.5 270.02h-4.1M375.5 266.79h-2.2M375.5 263.56h-2.2M375.5 260.32h-2.2M375.5 257.09h-2.2M375.5 253.86h-4.1M375.5 250.63h-2.2M375.5 247.4h-2.2M375.5 244.16h-2.2M375.5 240.93h-2.2M375.5 237.7h-4.1" stroke="#000" stroke-width="1.1" fill="none"/>
<path d="M385.25 399.3v3.4M404.46 399.3v3.4M423.67 399.3v3.4M442.88 399.3v3.4M462.09 399.3v3.4M481.3 399.3v3.4M500.51 399.3v3.4M519.72 399.3v3.4M538.93 399.3v3.4M558.14 399.3v3.4M577.35 399.3v3.4M596.56 399.3v3.4M615.77 399.3v3.4M634.98 399.3v3.4M654.19 399.3v3.4M673.4 399.3v3.4" stroke="#000" stroke-width="1.1" fill="none"/>
<text class="tk" transform="translate(372.5 401.7) rotate(0.06) scale(0.93 1)">0</text>
<text class="tk" transform="translate(372.5 385.54) rotate(0.06) scale(0.93 1)">10</text>
<text class="tk" transform="translate(372.5 369.38) rotate(0.06) scale(0.93 1)">20</text>
<text class="tk" transform="translate(372.5 353.22) rotate(0.06) scale(0.93 1)">30</text>
<text class="tk" transform="translate(372.5 337.06) rotate(0.06) scale(0.93 1)">40</text>
<text class="tk" transform="translate(372.5 320.9) rotate(0.06) scale(0.93 1)">50</text>
<text class="tk" transform="translate(372.5 304.74) rotate(0.06) scale(0.93 1)">60</text>
<text class="tk" transform="translate(372.5 288.58) rotate(0.06) scale(0.93 1)">70</text>
<text class="tk" transform="translate(372.5 272.42) rotate(0.06) scale(0.93 1)">80</text>
<text class="tk" transform="translate(372.5 256.26) rotate(0.06) scale(0.93 1)">90</text>
<text class="tk" transform="translate(372.5 240.1) rotate(0.06) scale(0.93 1)">100</text>
<text class="yl" transform="translate(362 318.9) rotate(-90)">Proportion positive for IgA (%)</text>
<g transform="translate(387.05 405.3) rotate(-45)"><text class="xl">CSP</text><text class="sp" x="0.2" y="-2.6">¥</text></g>
<g transform="translate(406.26 405.3) rotate(-45)"><text class="xl">LSA-1</text><text class="sp" x="0.2" y="-2.6">*</text></g>
<g transform="translate(425.47 405.3) rotate(-45)"><text class="xl">TRAP</text><text class="sp" x="0.2" y="-2.6">¥</text></g>
<g transform="translate(444.68 405.3) rotate(-45)"><text class="xl">AMA-1 3D7</text><text class="sp" x="0.2" y="-2.6">¥</text></g>
<g transform="translate(463.89 405.3) rotate(-45)"><text class="xl">EBA-140 RIII-V</text><text class="sp" x="0.2" y="-2.6">¥</text></g>
<g transform="translate(483.1 405.3) rotate(-45)"><text class="xl">EBA-175 RII</text><text class="sp" x="0.2" y="-2.6">#</text></g>
<g transform="translate(502.31 405.3) rotate(-45)"><text class="xl">EBA-175 RIII-V</text><text class="sp" x="0.2" y="-2.6">¥</text></g>
<g transform="translate(521.52 405.3) rotate(-45)"><text class="xl">GLURP-R0</text><text class="sp" x="0.2" y="-2.6">¥</text></g>
<g transform="translate(540.73 405.3) rotate(-45)"><text class="xl">GLURP-R2</text><text class="sp" x="0.2" y="-2.6">¥</text></g>
<g transform="translate(559.94 405.3) rotate(-45)"><text class="xl">MSP-1<tspan font-size="4.2" font-weight="normal" fill="#444" dy="1">42</tspan><tspan dy="-1"> 3D7</tspan></text><text class="sp" x="0.2" y="-2.6">¥</text></g>
<g transform="translate(579.15 405.3) rotate(-45)"><text class="xl">MSP-2 3D7</text><text class="sp" x="0.2" y="-2.6">¥</text></g>
<g transform="translate(598.36 405.3) rotate(-45)"><text class="xl">MSP-3 3D7</text><text class="sp" x="0.2" y="-2.6">¥</text></g>
<g transform="translate(617.57 405.3) rotate(-45)"><text class="xl">Rh2-2030</text><text class="sp" x="0.2" y="-2.6">¥</text></g>
<g transform="translate(636.78 405.3) rotate(-45)"><text class="xl">Rh4.2</text><text class="sp" x="0.2" y="-2.6">¥</text></g>
<g transform="translate(655.99 405.3) rotate(-45)"><text class="xl">Rh5.1</text><text class="sp" x="0.2" y="-2.6">*</text></g>
<g transform="translate(675.2 405.3) rotate(-45)"><text class="xl">Pfs230</text><text class="sp" x="0.2" y="-2.6">¥</text></g>
<rect x="614.3" y="263.6" width="8.6" height="5.3" fill="#dedede" stroke="#b4b4b4" stroke-width="0.6"/>
<rect x="614.3" y="274.5" width="8.6" height="5.3" fill="url(#ck)" stroke="#9a9a9a" stroke-width="0.4"/>
<rect x="614.1" y="285.3" width="9" height="9.2" fill="#5e5e5e"/>
<text class="lg" transform="translate(627.7 268.75) rotate(0.06)">&lt; 5 years</text>
<text class="lg" transform="translate(627.7 279.7) rotate(0.06)">5-14 years</text>
<text class="lg" transform="translate(629.5 294) rotate(0.06)"><tspan font-size="10.2">≥</tspan><tspan x="8.3">15 years</tspan></text>
<path d="M606.9 366.1H621.9" stroke="#111" stroke-width="1.3"/>
<text class="ns" transform="translate(614.3 362.6) rotate(0.06)">ns</text>
</g>
<g>
<text class="t" transform="translate(183.1 459.6) rotate(0.06)">E: IgM</text>
<rect x="200" y="608.54" width="4.5" height="20.16" fill="#dedede" stroke="#b2b2b2" stroke-width="0.4"/>
<rect x="204.9" y="590.28" width="4.5" height="38.42" fill="url(#ck)" stroke="#8c8c8c" stroke-width="0.4"/>
<rect x="209.8" y="596.26" width="4.5" height="32.44" fill="#5e5e5e" stroke="#5e5e5e" stroke-width="0.4"/>
<rect x="219.21" y="607.57" width="4.5" height="21.13" fill="#dedede" stroke="#b2b2b2" stroke-width="0.4"/>
<rect x="224.11" y="602.4" width="4.5" height="26.3" fill="url(#ck)" stroke="#8c8c8c" stroke-width="0.4"/>
<rect x="229.01" y="580.26" width="4.5" height="48.44" fill="#5e5e5e" stroke="#5e5e5e" stroke-width="0.4"/>
<rect x="238.42" y="573.63" width="4.5" height="55.07" fill="#dedede" stroke="#b2b2b2" stroke-width="0.4"/>
<rect x="243.32" y="554.08" width="4.5" height="74.62" fill="url(#ck)" stroke="#8c8c8c" stroke-width="0.4"/>
<rect x="248.22" y="539.37" width="4.5" height="89.33" fill="#5e5e5e" stroke="#5e5e5e" stroke-width="0.4"/>
<rect x="257.63" y="574.44" width="4.5" height="54.26" fill="#dedede" stroke="#b2b2b2" stroke-width="0.4"/>
<rect x="262.53" y="586.4" width="4.5" height="42.3" fill="url(#ck)" stroke="#8c8c8c" stroke-width="0.4"/>
<rect x="267.43" y="574.93" width="4.5" height="53.77" fill="#5e5e5e" stroke="#5e5e5e" stroke-width="0.4"/>
<rect x="276.84" y="601.59" width="4.5" height="27.11" fill="#dedede" stroke="#b2b2b2" stroke-width="0.4"/>
<rect x="281.74" y="575.25" width="4.5" height="53.45" fill="url(#ck)" stroke="#8c8c8c" stroke-width="0.4"/>
<rect x="286.64" y="585.91" width="4.5" height="42.79" fill="#5e5e5e" stroke="#5e5e5e" stroke-width="0.4"/>
<rect x="296.05" y="618.72" width="4.5" height="9.98" fill="#dedede" stroke="#b2b2b2" stroke-width="0.4"/>
<rect x="300.95" y="601.1" width="4.5" height="27.6" fill="url(#ck)" stroke="#8c8c8c" stroke-width="0.4"/>
<rect x="305.85" y="570.4" width="4.5" height="58.3" fill="#5e5e5e" stroke="#5e5e5e" stroke-width="0.4"/>
<rect x="315.26" y="600.14" width="4.5" height="28.56" fill="#dedede" stroke="#b2b2b2" stroke-width="0.4"/>
<rect x="320.16" y="570.4" width="4.5" height="58.3" fill="url(#ck)" stroke="#8c8c8c" stroke-width="0.4"/>
<rect x="325.06" y="568.78" width="4.5" height="59.92" fill="#5e5e5e" stroke="#5e5e5e" stroke-width="0.4"/>
<rect x="334.47" y="620.82" width="4.5" height="7.88" fill="#dedede" stroke="#b2b2b2" stroke-width="0.4"/>
<rect x="339.37" y="605.47" width="4.5" height="23.23" fill="url(#ck)" stroke="#8c8c8c" stroke-width="0.4"/>
<rect x="344.27" y="570.4" width="4.5" height="58.3" fill="#5e5e5e" stroke="#5e5e5e" stroke-width="0.4"/>
<rect x="353.68" y="624.86" width="4.5" height="3.84" fill="#dedede" stroke="#b2b2b2" stroke-width="0.4"/>
<rect x="358.58" y="614.36" width="4.5" height="14.34" fill="url(#ck)" stroke="#8c8c8c" stroke-width="0.4"/>
<rect x="363.48" y="583.17" width="4.5" height="45.53" fill="#5e5e5e" stroke="#5e5e5e" stroke-width="0.4"/>
<rect x="372.89" y="616.46" width="4.5" height="12.24" fill="#dedede" stroke="#b2b2b2" stroke-width="0.4"/>
<rect x="377.79" y="599.33" width="4.5" height="29.37" fill="url(#ck)" stroke="#8c8c8c" stroke-width="0.4"/>
<rect x="382.69" y="578.48" width="4.5" height="50.22" fill="#5e5e5e" stroke="#5e5e5e" stroke-width="0.4"/>
<rect x="392.1" y="584.94" width="4.5" height="43.76" fill="#dedede" stroke="#b2b2b2" stroke-width="0.4"/>
<rect x="397" y="560.38" width="4.5" height="68.32" fill="url(#ck)" stroke="#8c8c8c" stroke-width="0.4"/>
<rect x="401.9" y="561.19" width="4.5" height="67.51" fill="#5e5e5e" stroke="#5e5e5e" stroke-width="0.4"/>
<rect x="411.31" y="533.39" width="4.5" height="95.31" fill="#dedede" stroke="#b2b2b2" stroke-width="0.4"/>
<rect x="416.21" y="541.31" width="4.5" height="87.39" fill="url(#ck)" stroke="#8c8c8c" stroke-width="0.4"/>
<rect x="421.11" y="567.33" width="4.5" height="61.37" fill="#5e5e5e" stroke="#5e5e5e" stroke-width="0.4"/>
<rect x="430.52" y="507.54" width="4.5" height="121.16" fill="#dedede" stroke="#b2b2b2" stroke-width="0.4"/>
<rect x="435.42" y="499.3" width="4.5" height="129.4" fill="url(#ck)" stroke="#8c8c8c" stroke-width="0.4"/>
<rect x="440.32" y="519.66" width="4.5" height="109.04" fill="#5e5e5e" stroke="#5e5e5e" stroke-width="0.4"/>
<rect x="449.73" y="572.34" width="4.5" height="56.36" fill="#dedede" stroke="#b2b2b2" stroke-width="0.4"/>
<rect x="454.63" y="544.38" width="4.5" height="84.32" fill="url(#ck)" stroke="#8c8c8c" stroke-width="0.4"/>
<rect x="459.53" y="565.55" width="4.5" height="63.15" fill="#5e5e5e" stroke="#5e5e5e" stroke-width="0.4"/>
<rect x="468.94" y="595.13" width="4.5" height="33.57" fill="#dedede" stroke="#b2b2b2" stroke-width="0.4"/>
<rect x="473.84" y="590.92" width="4.5" height="37.78" fill="url(#ck)" stroke="#8c8c8c" stroke-width="0.4"/>
<rect x="478.74" y="597.39" width="4.5" height="31.31" fill="#5e5e5e" stroke="#5e5e5e" stroke-width="0.4"/>
<rect x="488.15" y="537.6" width="4.5" height="91.1" fill="#dedede" stroke="#b2b2b2" stroke-width="0.4"/>
<rect x="493.05" y="519.66" width="4.5" height="109.04" fill="url(#ck)" stroke="#8c8c8c" stroke-width="0.4"/>
<rect x="497.95" y="524.34" width="4.5" height="104.36" fill="#5e5e5e" stroke="#5e5e5e" stroke-width="0.4"/>
<path d="M197.4 466.6 V628.7 H505.5" fill="none" stroke="#000" stroke-width="1.2"/>
<path d="M197.4 628.7h-4.1M197.4 625.47h-2.2M197.4 622.24h-2.2M197.4 619h-2.2M197.4 615.77h-2.2M197.4 612.54h-4.1M197.4 609.31h-2.2M197.4 606.08h-2.2M197.4 602.84h-2.2M197.4 599.61h-2.2M197.4 596.38h-4.1M197.4 593.15h-2.2M197.4 589.92h-2.2M197.4 586.68h-2.2M197.4 583.45h-2.2M197.4 580.22h-4.1M197.4 576.99h-2.2M197.4 573.76h-2.2M197.4 570.52h-2.2M197.4 567.29h-2.2M197.4 564.06h-4.1M197.4 560.83h-2.2M197.4 557.6h-2.2M197.4 554.36h-2.2M197.4 551.13h-2.2M197.4 547.9h-4.1M197.4 544.67h-2.2M197.4 541.44h-2.2M197.4 538.2h-2.2M197.4 534.97h-2.2M197.4 531.74h-4.1M197.4 528.51h-2.2M197.4 525.28h-2.2M197.4 522.04h-2.2M197.4 518.81h-2.2M197.4 515.58h-4.1M197.4 512.35h-2.2M197.4 509.12h-2.2M197.4 505.88h-2.2M197.4 502.65h-2.2M197.4 499.42h-4.1M197.4 496.19h-2.2M197.4 492.96h-2.2M197.4 489.72h-2.2M197.4 486.49h-2.2M197.4 483.26h-4.1M197.4 480.03h-2.2M197.4 476.8h-2.2M197.4 473.56h-2.2M197.4 470.33h-2.2M197.4 467.1h-4.1" stroke="#000" stroke-width="1.1" fill="none"/>
<path d="M207.15 628.7v3.4M226.36 628.7v3.4M245.57 628.7v3.4M264.78 628.7v3.4M283.99 628.7v3.4M303.2 628.7v3.4M322.41 628.7v3.4M341.62 628.7v3.4M360.83 628.7v3.4M380.04 628.7v3.4M399.25 628.7v3.4M418.46 628.7v3.4M437.67 628.7v3.4M456.88 628.7v3.4M476.09 628.7v3.4M495.3 628.7v3.4" stroke="#000" stroke-width="1.1" fill="none"/>
<text class="tk" transform="translate(194.4 631.1) rotate(0.06) scale(0.93 1)">0</text>
<text class="tk" transform="translate(194.4 614.94) rotate(0.06) scale(0.93 1)">10</text>
<text class="tk" transform="translate(194.4 598.78) rotate(0.06) scale(0.93 1)">20</text>
<text class="tk" transform="translate(194.4 582.62) rotate(0.06) scale(0.93 1)">30</text>
<text class="tk" transform="translate(194.4 566.46) rotate(0.06) scale(0.93 1)">40</text>
<text class="tk" transform="translate(194.4 550.3) rotate(0.06) scale(0.93 1)">50</text>
<text class="tk" transform="translate(194.4 534.14) rotate(0.06) scale(0.93 1)">60</text>
<text class="tk" transform="translate(194.4 517.98) rotate(0.06) scale(0.93 1)">70</text>
<text class="tk" transform="translate(194.4 501.82) rotate(0.06) scale(0.93 1)">80</text>
<text class="tk" transform="translate(194.4 485.66) rotate(0.06) scale(0.93 1)">90</text>
<text class="tk" transform="translate(194.4 469.5) rotate(0.06) scale(0.93 1)">100</text>
<text class="yl" transform="translate(183.2 548.3) rotate(-90)">Proportion positive for IgM (%)</text>
<g transform="translate(208.95 634.7) rotate(-45)"><text class="xl">CSP</text><text class="sp" x="0.2" y="-2.6">¥</text></g>
<g transform="translate(228.16 634.7) rotate(-45)"><text class="xl">LSA-1</text><text class="sp" x="0.2" y="-2.6">*</text></g>
<g transform="translate(247.37 634.7) rotate(-45)"><text class="xl">TRAP</text><text class="sp" x="0.2" y="-2.6">¥</text></g>
<g transform="translate(266.58 634.7) rotate(-45)"><text class="xl">AMA-1 3D7</text><text class="sp" x="0.2" y="-2.6">¥</text></g>
<g transform="translate(285.79 634.7) rotate(-45)"><text class="xl">EBA-140 RIII-V</text><text class="sp" x="0.2" y="-2.6">¥</text></g>
<g transform="translate(305 634.7) rotate(-45)"><text class="xl">EBA-175 RII</text><text class="sp" x="0.2" y="-2.6">#</text></g>
<g transform="translate(324.21 634.7) rotate(-45)"><text class="xl">EBA-175 RIII-V</text><text class="sp" x="0.2" y="-2.6">¥</text></g>
<g transform="translate(343.42 634.7) rotate(-45)"><text class="xl">GLURP-R0</text><text class="sp" x="0.2" y="-2.6">¥</text></g>
<g transform="translate(362.63 634.7) rotate(-45)"><text class="xl">GLURP-R2</text><text class="sp" x="0.2" y="-2.6">¥</text></g>
<g transform="translate(381.84 634.7) rotate(-45)"><text class="xl">MSP-1<tspan font-size="4.2" font-weight="normal" fill="#444" dy="1">42</tspan><tspan dy="-1"> 3D7</tspan></text><text class="sp" x="0.2" y="-2.6">¥</text></g>
<g transform="translate(401.05 634.7) rotate(-45)"><text class="xl">MSP-2 3D7</text><text class="sp" x="0.2" y="-2.6">¥</text></g>
<g transform="translate(420.26 634.7) rotate(-45)"><text class="xl">MSP-3 3D7</text><text class="sp" x="0.2" y="-2.6">¥</text></g>
<g transform="translate(439.47 634.7) rotate(-45)"><text class="xl">Rh2-2030</text><text class="sp" x="0.2" y="-2.6">¥</text></g>
<g transform="translate(458.68 634.7) rotate(-45)"><text class="xl">Rh4.2</text><text class="sp" x="0.2" y="-2.6">¥</text></g>
<g transform="translate(477.89 634.7) rotate(-45)"><text class="xl">Rh5.1</text><text class="sp" x="0.2" y="-2.6">*</text></g>
<g transform="translate(497.1 634.7) rotate(-45)"><text class="xl">Pfs230</text><text class="sp" x="0.2" y="-2.6">¥</text></g>
<rect x="442.2" y="471.3" width="8.6" height="5.3" fill="#dedede" stroke="#b4b4b4" stroke-width="0.6"/>
<rect x="442.2" y="482.1" width="8.6" height="5.3" fill="url(#ck)" stroke="#9a9a9a" stroke-width="0.4"/>
<rect x="442" y="492.6" width="9" height="9.2" fill="#5e5e5e"/>
<text class="lg" transform="translate(455.6 476.45) rotate(0.06)">&lt; 5 years</text>
<text class="lg" transform="translate(455.6 487.3) rotate(0.06)">5-14 years</text>
<text class="lg" transform="translate(457.4 501.3) rotate(0.06)"><tspan font-size="10.2">≥</tspan><tspan x="8.3">15 years</tspan></text>
<path d="M468.1 587H483.4" stroke="#111" stroke-width="1.3"/>
<text class="ns" transform="translate(475.8 583.5) rotate(0.06)">ns</text>
</g>
</svg></body></html>
